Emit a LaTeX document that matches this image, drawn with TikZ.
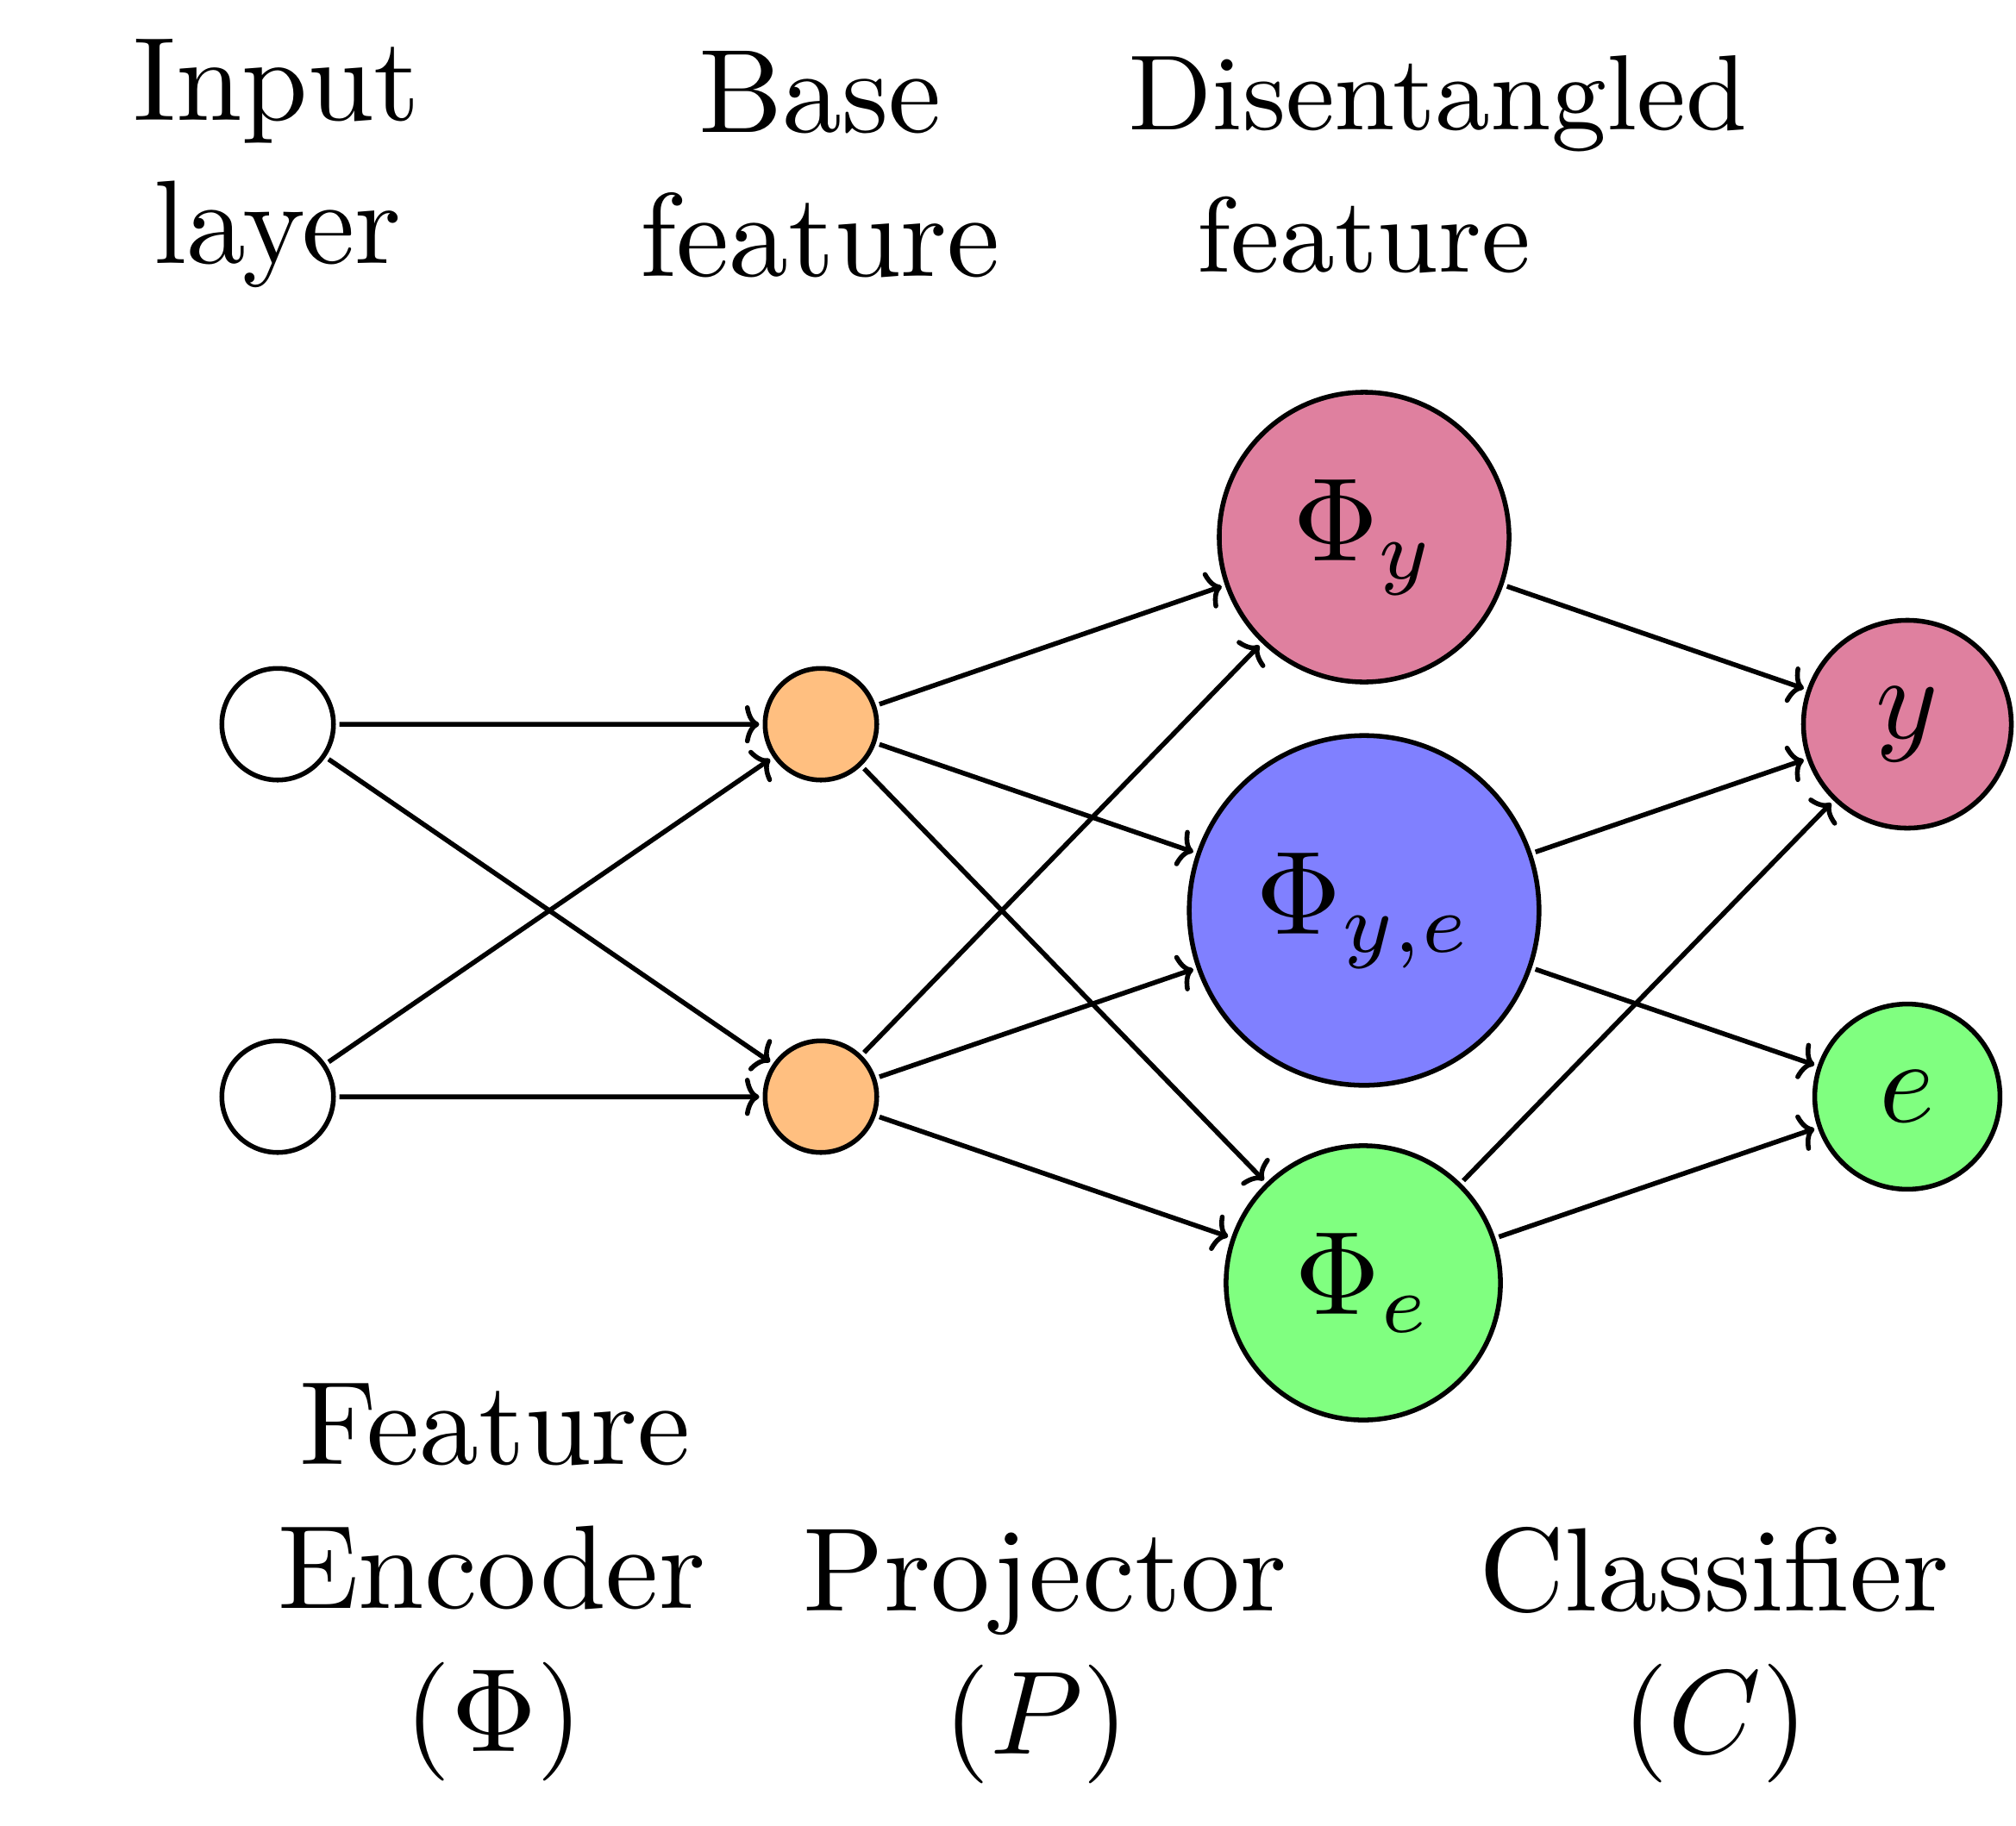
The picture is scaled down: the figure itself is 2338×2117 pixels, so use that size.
\documentclass[tikz,border=0pt]{standalone}
\usetikzlibrary{arrows.meta}
\begin{document}
\begin{tikzpicture}[x=0.072605pt, y=-0.072605pt, scale=2.488,
  every node/.style={transform shape},
  neuron/.style={circle, draw, line width=1pt, inner sep=0pt},
  lbl/.style={anchor=base, inner sep=0pt},
  smalllbl/.style={anchor=base, inner sep=0pt, font=\small},
  conn/.style={-{Computer Modern Rightarrow[length=3pt, width=8pt]}, line width=1pt}]
\useasboundingbox (0,0) rectangle (2338,2117);
% neurons
\node[neuron, minimum size=9.4pt] (in1) at (322,840) {};
\node[neuron, minimum size=9.4pt] (in2) at (322,1272) {};
\node[neuron, fill=orange!50, minimum size=9.4pt] (b1) at (952,840) {};
\node[neuron, fill=orange!50, minimum size=9.4pt] (b2) at (952,1272) {};
\node[neuron, fill=purple!50, minimum size=24.4pt] (py) at (1582,623) {$\Phi_y$};
\node[neuron, fill=blue!50, minimum size=29.45pt] (pye) at (1582,1056) {$\Phi_{y,e}$};
\node[neuron, fill=green!50, minimum size=23.1pt] (pe) at (1581,1488) {$\Phi_e$};
\node[neuron, fill=purple!50, minimum size=17.5pt] (oy) at (2212,840) {$y$};
\node[neuron, fill=green!50, minimum size=15.6pt] (oe) at (2212,1272) {$e$};
% connections
\draw[conn] (in1) -- (b1);
\draw[conn] (in1) -- (b2);
\draw[conn] (in2) -- (b1);
\draw[conn] (in2) -- (b2);
\draw[conn] (b1) -- (py);
\draw[conn] (b1) -- (pye);
\draw[conn] (b1) -- (pe);
\draw[conn] (b2) -- (py);
\draw[conn] (b2) -- (pye);
\draw[conn] (b2) -- (pe);
\draw[conn] (py) -- (oy);
\draw[conn] (pye) -- (oy);
\draw[conn] (pye) -- (oe);
\draw[conn] (pe) -- (oy);
\draw[conn] (pe) -- (oe);
% top labels
\node[lbl] (t1a) at (321,140) {Input};
\node[lbl] (t1b) at (322,305) {layer};
\node[lbl] (t2a) at (951,153) {Base};
\node[lbl] (t2b) at (951,320) {feature};
\node[smalllbl] (t3a) at (1667,150) {Disentangled};
\node[smalllbl] (t3b) at (1582,315) {feature};
% bottom labels
\node[lbl] (u1a) at (574,1698) {Feature};
\node[lbl] (u1b) at (570,1865) {Encoder};
\node[lbl] (u1c) at (573,2031) {$(\Phi)$};
\node[lbl] (u2a) at (1212,1868) {Projector};
\node[lbl] (u2b) at (1202,2034) {$(P)$};
\node[lbl] (u3a) at (1988,1868) {Classifier};
\node[lbl] (u3b) at (1989,2033) {$(C)$};
\end{tikzpicture}
\end{document}
